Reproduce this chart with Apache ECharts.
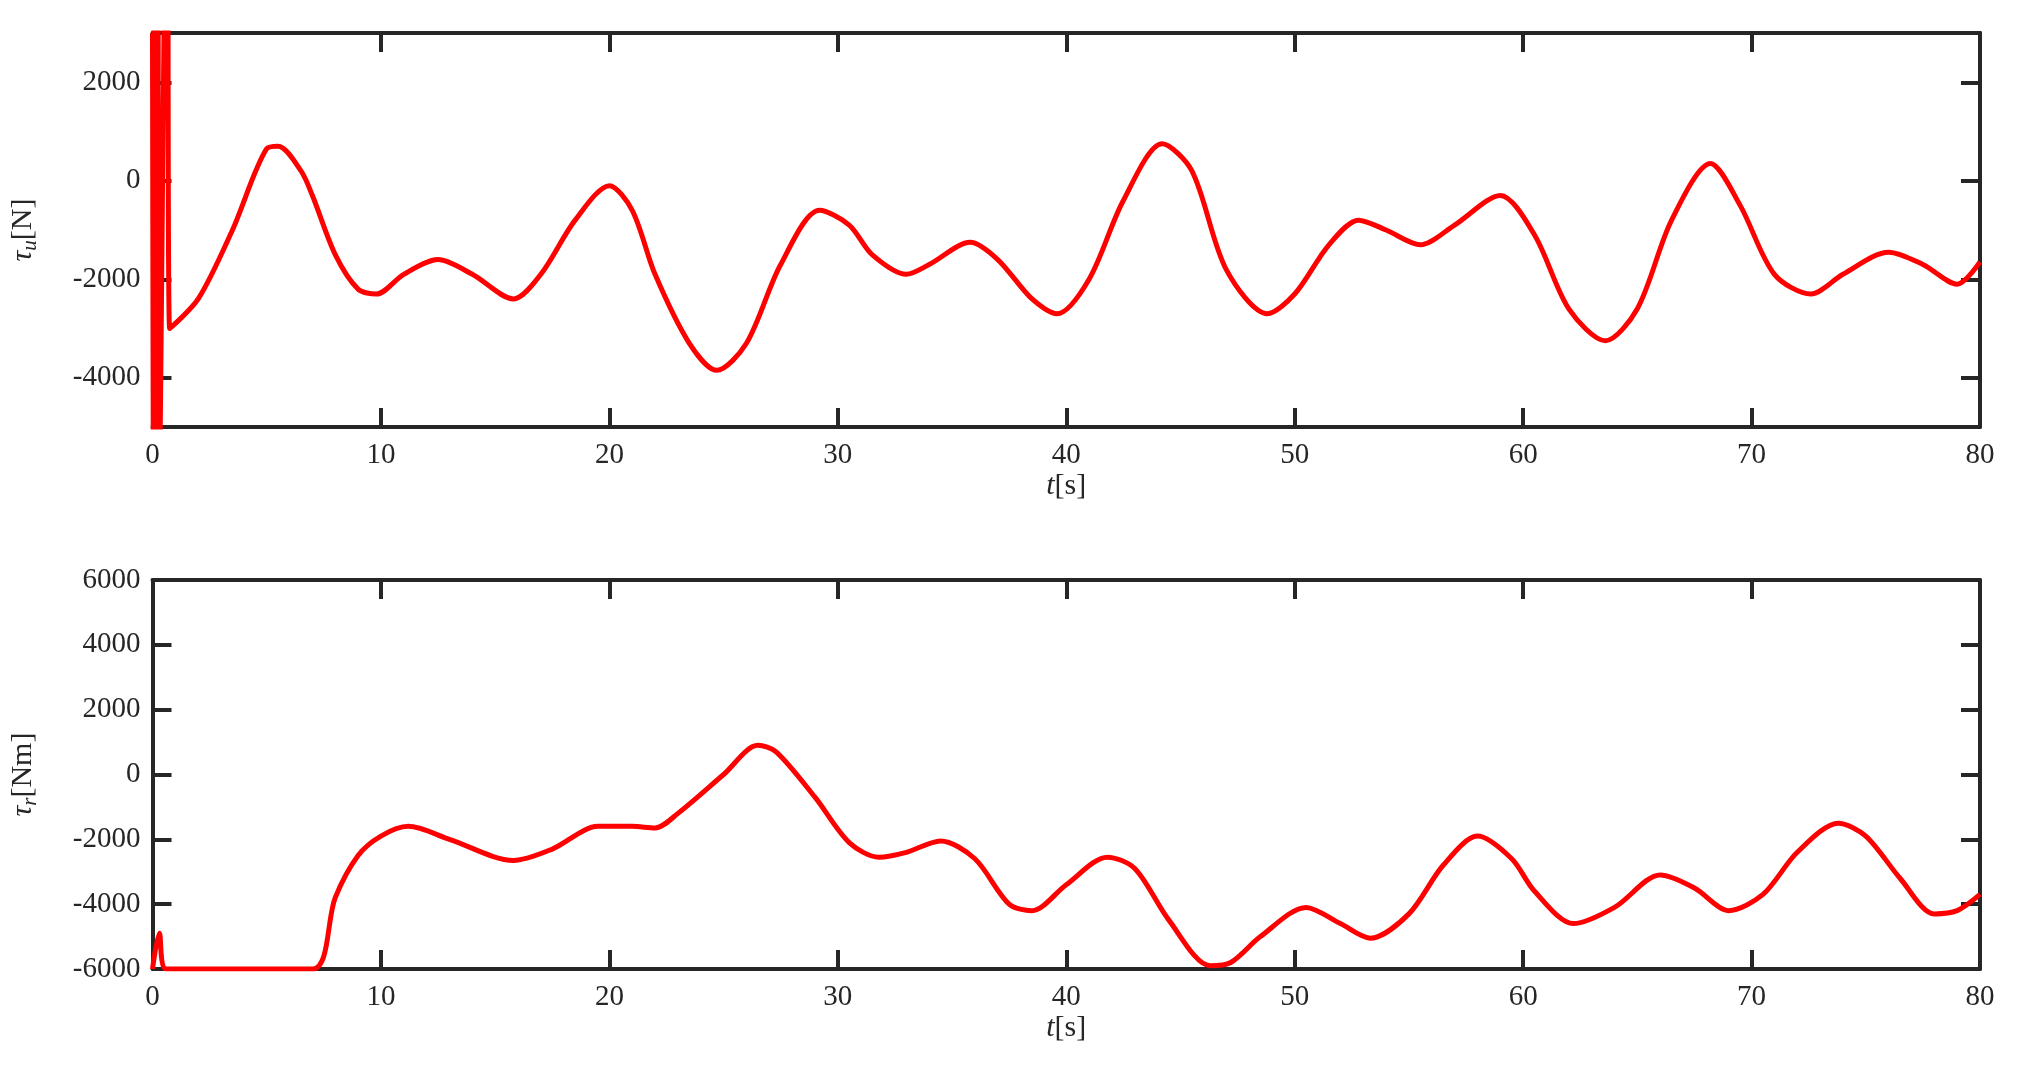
<!DOCTYPE html>
<html>
<head>
<meta charset="utf-8">
<script src="https://cdn.jsdelivr.net/npm/echarts@6/dist/echarts.min.js"></script>
<style>html,body{margin:0;background:#fff}#main{width:2019px;height:1078px}</style>
</head>
<body>
<div id="main"></div>
<script>
// top: tau_u [N]
const tauU = [
  [0,3000],[0.04,-6000],[0.08,6000],[0.12,-6000],[0.16,6000],[0.2,-6000],[0.24,6000],[0.3,-6000],
  [0.62,6000],[0.66,6000],[0.75,-3000],[2,-2400],[3.5,-1000],[5,650],[5.5,700],[6.5,200],[7,-300],
  [8,-1500],[9,-2200],[9.8,-2300],[11,-1900],[12.5,-1600],[14,-1900],[15.8,-2400],[17,-1900],
  [18.5,-800],[20,-100],[21,-600],[22,-1900],[23.5,-3300],[24.7,-3850],[26,-3300],[27.5,-1700],
  [29.2,-600],[30.5,-900],[31.5,-1500],[33,-1900],[34,-1700],[35.8,-1250],[37,-1600],[38.5,-2400],
  [39.6,-2700],[41,-2000],[42.5,-400],[44.2,750],[45.5,200],[47,-1800],[48.8,-2700],[50,-2300],
  [51.5,-1300],[52.8,-800],[54,-1000],[55.5,-1300],[57,-900],[59,-300],[60.5,-1100],[62,-2600],
  [63.6,-3250],[65,-2600],[66.5,-800],[68.2,350],[69.5,-500],[71,-1900],[72.6,-2300],[74,-1900],
  [76,-1450],[77.5,-1700],[79,-2100],[80,-1650]
];
// bottom: tau_r [Nm]
const tauR = [
  [0,-6000],[0.3,-4900],[0.6,-6000],[7,-6000],[8,-3800],[9,-2500],[10,-1900],[11.2,-1600],
  [13,-2000],[15.8,-2650],[17.5,-2300],[19.5,-1600],[21,-1600],[22,-1650],[23,-1200],[25,0],
  [26.5,900],[27.3,700],[29,-700],[30.5,-2100],[31.8,-2550],[33,-2400],[34.5,-2050],[36,-2600],
  [37.5,-4000],[38.5,-4200],[40,-3400],[41.8,-2550],[43,-2900],[44.5,-4500],[46.3,-5900],
  [47.2,-5800],[48.5,-5000],[50.5,-4100],[52,-4600],[53.3,-5050],[55,-4300],[56.5,-2800],
  [58,-1900],[59.5,-2600],[60.5,-3600],[62.2,-4600],[64,-4100],[66,-3100],[67.5,-3500],
  [69,-4200],[70.5,-3700],[72,-2400],[73.8,-1500],[75,-1900],[76.5,-3200],[78,-4300],
  [79,-4200],[80,-3700]
];
const xTicks = [0, 10, 20, 30, 40, 50, 60, 70, 80];
const topTicks = [-4000, -2000, 0, 2000];
const botTicks = [-6000, -4000, -2000, 0, 2000, 4000, 6000];

const ink = '#262626';
const font = 'Liberation Serif';
const line = {onZero: false, lineStyle: {color: ink, width: 4}};
const lab = {color: ink, fontFamily: font, fontSize: 29, formatter: v => String(v)};
const rich = {
  i: {fontStyle: 'italic', fontFamily: font, fontSize: 30, color: ink},
  n: {fontFamily: font, fontSize: 30, color: ink},
  s: {fontStyle: 'italic', fontFamily: font, fontSize: 21, color: ink, padding: [14, 0, 0, 0]}
};
const tick = vals => ({show: true, inside: true, length: 19, customValues: vals, lineStyle: {color: ink, width: 4}});

function xAxes(g) {
  return [
    {gridIndex: g, type: 'value', min: 0, max: 80, axisLine: line, axisTick: tick(xTicks),
     splitLine: {show: false}, axisLabel: Object.assign({margin: 14, customValues: xTicks}, lab),
     name: '{i|t}{n|[s]}', nameLocation: 'middle', nameGap: 42, nameTextStyle: {rich}},
    {gridIndex: g, type: 'value', position: 'top', min: 0, max: 80, axisLine: line,
     axisTick: tick(xTicks), splitLine: {show: false}, axisLabel: {show: false}}
  ];
}
function yAxes(g, min, max, vals, nm) {
  return [
    {gridIndex: g, type: 'value', min, max, axisLine: line, axisTick: tick(vals), splitLine: {show: false},
     axisLabel: Object.assign({margin: 12, customValues: vals}, lab), name: nm, nameLocation: 'middle',
     nameGap: 112, nameTextStyle: {rich}},
    {gridIndex: g, type: 'value', position: 'right', min, max, axisLine: line, axisTick: tick(vals),
     splitLine: {show: false}, axisLabel: {show: false}}
  ];
}

const chart = echarts.init(document.getElementById('main'));
chart.setOption({
  animation: false,
  grid: [
    {left: 148, top: 33, width: 1832, height: 394},
    {left: 148, top: 580, width: 1832, height: 389}
  ],
  xAxis: [...xAxes(0), ...xAxes(1)],
  yAxis: [...yAxes(0, -5000, 3000, topTicks, '{i|τ}{s|u}{n|[N]}'),
          ...yAxes(1, -6000, 6000, botTicks, '{i|τ}{s|r}{n|[Nm]}')],
  series: [
    {type: 'line', xAxisIndex: 0, yAxisIndex: 0, data: tauU, showSymbol: false, clip: true,
     smooth: 0.3, lineStyle: {color: '#ff0000', width: 5}},
    {type: 'line', xAxisIndex: 2, yAxisIndex: 2, data: tauR, showSymbol: false, clip: true,
     smooth: 0.3, lineStyle: {color: '#ff0000', width: 5}}
  ]
});
</script>
</body>
</html>
